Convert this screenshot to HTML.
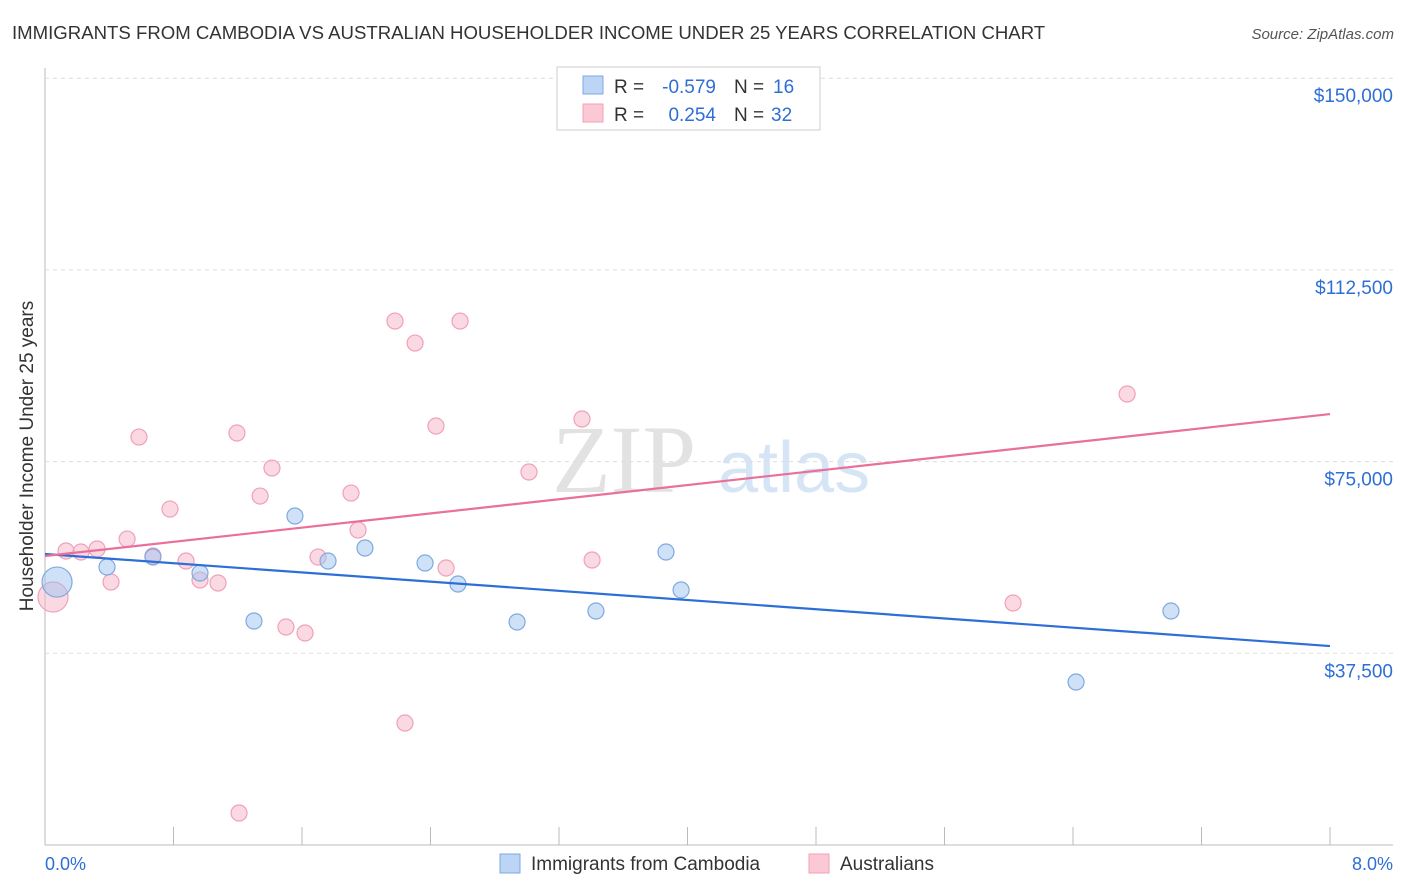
<!DOCTYPE html>
<html><head><meta charset="utf-8"><style>
body{margin:0;background:#fff;font-family:"Liberation Sans",sans-serif;}
#c{position:relative;width:1406px;height:892px;overflow:hidden}
</style></head><body>
<div id="c">
<svg id="s" width="1406" height="892" xmlns="http://www.w3.org/2000/svg">
<text x="12" y="39" font-size="18.6" fill="#333">IMMIGRANTS FROM CAMBODIA VS AUSTRALIAN HOUSEHOLDER INCOME UNDER 25 YEARS CORRELATION CHART</text>
<text x="1394" y="39" font-size="15" fill="#555" font-style="italic" text-anchor="end">Source: ZipAtlas.com</text>
<text x="33" y="456" font-size="19" fill="#333" text-anchor="middle" transform="rotate(-90 33 456)">Householder Income Under 25 years</text>
<text x="552" y="492" font-size="96" fill="#e2e2e2" font-family="Liberation Serif">ZIP</text>
<text x="718" y="492" font-size="72" fill="#d6e5f5">atlas</text>
<g id="grid"></g><g id="marks"></g>
<rect x="557" y="67" width="263" height="63" fill="#fff" stroke="#ccc"/>
<rect x="583" y="76" width="20" height="18" fill="#bcd4f5" stroke="#7fa9e0"/>
<rect x="583" y="104" width="20" height="18" fill="#fbc8d6" stroke="#f0a0b8"/>
<g font-size="19" fill="#333">
<text x="614" y="93">R =</text>
<text x="716" y="93" fill="#2d6fd6" text-anchor="end">-0.579</text>
<text x="734" y="93">N =</text>
<text x="773" y="93" fill="#2d6fd6">16</text>
<text x="614" y="121">R =</text>
<text x="716" y="121" fill="#2d6fd6" text-anchor="end">0.254</text>
<text x="734" y="121">N =</text>
<text x="771" y="121" fill="#2d6fd6">32</text>
</g>
<text x="45" y="870" font-size="18" fill="#2d6fd6">0.0%</text>
<text x="1393" y="870" font-size="18" fill="#2d6fd6" text-anchor="end">8.0%</text>
<rect x="500" y="854" width="20" height="19" fill="#bcd4f5" stroke="#7fa9e0"/>
<text x="531" y="870" font-size="19" fill="#333">Immigrants from Cambodia</text>
<rect x="809" y="854" width="20" height="19" fill="#fbc8d6" stroke="#f0a0b8"/>
<text x="840" y="870" font-size="19" fill="#333">Australians</text>
</svg></div>
<script>
const yTicks=[37500,75000,112500,150000];
const yTickLabels=["$37,500","$75,000","$112,500","$150,000"];
const blueX=[0.075,0.386,0.672,0.965,1.301,1.556,1.762,1.992,2.366,2.571,2.939,3.430,3.866,3.960,6.419,7.010];
const blueY=[51440,54380,56340,53210,43820,64360,55550,58100,55160,51050,43620,45770,57310,49880,31880,45770];
const pinkX=[0.05,0.131,0.224,0.324,0.411,0.511,0.585,0.672,0.778,0.878,0.965,1.077,1.195,1.339,1.413,1.5,1.619,1.7,1.905,1.949,2.179,2.241,2.304,2.434,2.497,2.584,3.013,3.343,3.406,6.027,6.737,1.208];
const pinkY=[48510,57510,57310,57900,51440,59850,79800,56530,65720,55550,51830,51250,80590,68260,73740,42640,41470,56330,68850,61610,102490,23860,98190,81960,54180,102490,72960,83330,55750,47340,88220,6260];
const blueTrend=[56920,38920];
const pinkTrend=[56530,84300];
const trendX=[0,8];
const X=v=>45+v/8*1285, Y=v=>845-v/37500*191.7;
const NS="http://www.w3.org/2000/svg";
function mk(t,a,p){const e=document.createElementNS(NS,t);for(const k in a)e.setAttribute(k,a[k]);document.getElementById(p).appendChild(e);return e;}
let e=mk('line',{x1:45,y1:68,x2:45,y2:845,stroke:'#bbb'},'grid');


e=mk('line',{x1:45,y1:845,x2:1393,y2:845,stroke:'#bbb'},'grid');


for(let i=0;i<=10;i++){e=mk('line',{x1:X(i*0.8),y1:827,x2:X(i*0.8),y2:845,stroke:'#bbb'},'grid');

}
yTicks.forEach((v,i)=>{e=mk('line',{x1:45,y1:Y(v),x2:1393,y2:Y(v),stroke:'#ddd','stroke-dasharray':'4,4'},'grid');


e=mk('text',{x:1393,y:Y(v)+24,'font-size':19,fill:'#2d6fd6','text-anchor':'end'},'grid');e.textContent=yTickLabels[i];

});
function pts(xs,ys,fill,stroke,name){xs.forEach((x,i)=>{e=mk('circle',{cx:X(x),cy:Y(ys[i]),r:i==0?15:8,fill:fill,stroke:stroke,'stroke-width':1.2},'marks');

});}
pts(pinkX,pinkY,'rgba(248,180,200,0.5)','#f0a0b8','point-australians');
pts(blueX,blueY,'rgba(160,196,240,0.5)','#7fa9e0','point-cambodia');
e=mk('line',{x1:X(trendX[0]),y1:Y(blueTrend[0]),x2:X(trendX[1]),y2:Y(blueTrend[1]),stroke:'#2d6fd6','stroke-width':2.2},'marks');


e=mk('line',{x1:X(trendX[0]),y1:Y(pinkTrend[0]),x2:X(trendX[1]),y2:Y(pinkTrend[1]),stroke:'#e8709a','stroke-width':2.2},'marks');


</script></body></html>
